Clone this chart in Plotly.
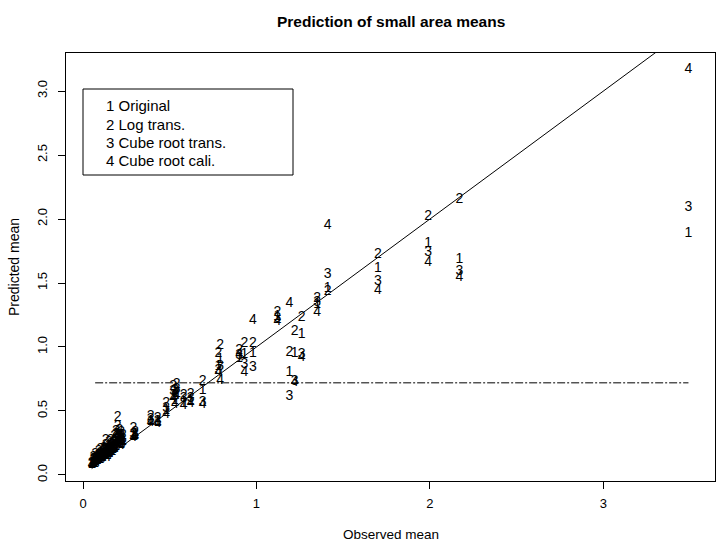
import plotly.graph_objects as go

# observed small-area means (x) and predictions from the four methods
observed = [0.05, 0.06, 0.07, 0.08, 0.09, 0.10, 0.11, 0.12, 0.13, 0.14, 0.15,
            0.16, 0.17, 0.18, 0.19, 0.20, 0.21, 0.22, 0.23, 0.29, 0.30,
            0.06, 0.07, 0.09, 0.10, 0.12, 0.13, 0.15, 0.16, 0.18, 0.19, 0.20, 0.22,
            0.39, 0.43, 0.48, 0.52, 0.53, 0.54, 0.58, 0.62, 0.69,
            0.78, 0.79, 0.90, 0.93, 0.98, 1.12, 1.19, 1.22, 1.26,
            1.35, 1.41, 1.70, 1.99, 2.17, 3.49]
pred_original = [0.08, 0.09, 0.09, 0.11, 0.12, 0.12, 0.14, 0.15, 0.16, 0.15, 0.17,
                 0.19, 0.18, 0.21, 0.22, 0.25, 0.27, 0.24, 0.26, 0.30, 0.31,
                 0.11, 0.12, 0.14, 0.15, 0.17, 0.19, 0.20, 0.22, 0.23, 0.26, 0.29, 0.30,
                 0.42, 0.41, 0.50, 0.62, 0.58, 0.64, 0.56, 0.58, 0.66,
                 0.85, 0.90, 0.91, 0.94, 0.95, 1.24, 0.80, 0.95, 1.10,
                 1.33, 1.46, 1.61, 1.81, 1.68, 1.89]
pred_log = [0.09, 0.11, 0.12, 0.14, 0.15, 0.17, 0.16, 0.19, 0.27, 0.18, 0.21,
            0.22, 0.24, 0.26, 0.32, 0.45, 0.35, 0.29, 0.31, 0.36, 0.33,
            0.14, 0.16, 0.18, 0.20, 0.21, 0.23, 0.25, 0.27, 0.30, 0.34, 0.38, 0.33,
            0.46, 0.44, 0.56, 0.69, 0.66, 0.71, 0.62, 0.63, 0.73,
            0.95, 1.01, 0.97, 1.03, 1.03, 1.27, 0.96, 1.12, 1.23,
            1.38, 1.43, 1.72, 2.02, 2.15, None]
pred_cube = [0.08, 0.10, 0.10, 0.12, 0.13, 0.14, 0.15, 0.16, 0.18, 0.17, 0.18,
             0.20, 0.21, 0.22, 0.25, 0.30, 0.31, 0.26, 0.28, 0.32, 0.32,
             0.12, 0.13, 0.15, 0.16, 0.18, 0.20, 0.22, 0.24, 0.25, 0.28, 0.32, 0.31,
             0.43, 0.42, 0.52, 0.65, 0.61, 0.67, 0.60, 0.60, 0.57,
             0.82, 0.85, 0.93, 0.86, 0.84, 1.22, 0.61, 0.73, 0.94,
             1.35, 1.57, 1.51, 1.74, 1.59, 2.09]
pred_cube_cali = [0.08, 0.08, 0.09, 0.10, 0.11, 0.12, 0.13, 0.14, 0.15, 0.14, 0.16,
                  0.17, 0.18, 0.20, 0.21, 0.24, 0.26, 0.23, 0.25, 0.29, 0.30,
                  0.10, 0.11, 0.12, 0.13, 0.15, 0.17, 0.18, 0.20, 0.22, 0.24, 0.27, 0.28,
                  0.41, 0.40, 0.47, 0.60, 0.55, 0.62, 0.54, 0.56, 0.55,
                  0.80, 0.74, 0.94, 0.80, 1.21, 1.20, 1.34, 0.72, 0.92,
                  1.27, 1.95, 1.44, 1.66, 1.54, 3.17]

series_labels = ["1", "2", "3", "4"]
legend_lines = ["1 Original", "2 Log trans.", "3 Cube root trans.", "4 Cube root cali."]
overall_mean = 0.72

title_text = "Prediction of small area means"
x_title = "Observed mean"
y_title = "Predicted mean"
x_ticks = [0, 1, 2, 3]
y_ticks = [0.0, 0.5, 1.0, 1.5, 2.0, 2.5, 3.0]

FONT = "Arial, Liberation Sans, sans-serif"

fig = go.Figure()

# identity line
xmin, xmax = min(observed), max(observed)
fig.add_trace(go.Scatter(x=[xmin, xmax], y=[xmin, xmax], mode="lines",
                         line=dict(color="black", width=1), hoverinfo="skip"))
# overall mean line
fig.add_trace(go.Scatter(x=[xmin + 0.02, xmax], y=[overall_mean, overall_mean], mode="lines",
                         line=dict(color="black", width=1, dash="8px,2px,2px,2px"),
                         hoverinfo="skip"))

for lab, ys in zip(series_labels, [pred_original, pred_log, pred_cube, pred_cube_cali]):
    fig.add_trace(go.Scatter(x=observed, y=ys, mode="text", text=[lab] * len(observed),
                             textposition="middle center",
                             textfont=dict(family=FONT, size=14, color="black")))

L, R, T, B = 66, 715, 53, 481
W, H = 717, 546
pw, ph = R - L, B - T

def px(xp):
    return (xp - L) / pw

def py(yp):
    return (B - yp) / ph

annotations = [
    dict(text=x_title, x=0.5, y=py(534), xref="paper", yref="paper",
         showarrow=False, font=dict(family=FONT, size=13.5, color="black"),
         xanchor="center", yanchor="middle"),
    dict(text=y_title, x=px(14), y=0.5, xref="paper", yref="paper", textangle=-90,
         showarrow=False, font=dict(family=FONT, size=14, color="black"),
         xanchor="center", yanchor="middle"),
    dict(text="<b>" + title_text + "</b>", x=0.5, y=py(22), xref="paper", yref="paper",
         showarrow=False, font=dict(family=FONT, size=15.5, color="black"),
         xanchor="center", yanchor="middle"),
]
legend_y = [105, 124, 142, 160]
for t, yy in zip(legend_lines, legend_y):
    annotations.append(dict(text=t, x=px(104), y=py(yy), xref="paper", yref="paper",
                            showarrow=False, font=dict(family=FONT, size=15, color="black"),
                            xanchor="left", yanchor="middle"))

fig.update_layout(
    width=W, height=H,
    margin=dict(l=L, r=W - R, t=T, b=H - B, pad=0),
    plot_bgcolor="white", paper_bgcolor="white",
    showlegend=False,
    annotations=annotations,
    shapes=[dict(type="rect", xref="paper", yref="paper",
                 x0=px(83), x1=px(293), y0=py(175), y1=py(89),
                 line=dict(color="black", width=1), fillcolor="rgba(0,0,0,0)")],
    xaxis=dict(range=[-0.098, 3.643], tickvals=x_ticks, ticktext=[str(v) for v in x_ticks],
               showgrid=False, zeroline=False, showline=True, mirror=True,
               linecolor="black", linewidth=1, ticks="outside", ticklen=7,
               ticklabelstandoff=3,
               tickcolor="black", tickfont=dict(family=FONT, size=13, color="black")),
    yaxis=dict(range=[-0.047, 3.297], tickvals=y_ticks, ticktext=[f"{v:.1f}" for v in y_ticks],
               tickangle=-90, ticklabelstandoff=6,
               showgrid=False, zeroline=False, showline=True, mirror=True,
               linecolor="black", linewidth=1, ticks="outside", ticklen=7,
               tickcolor="black", tickfont=dict(family=FONT, size=13, color="black")),
)

fig.write_html("out.html")
